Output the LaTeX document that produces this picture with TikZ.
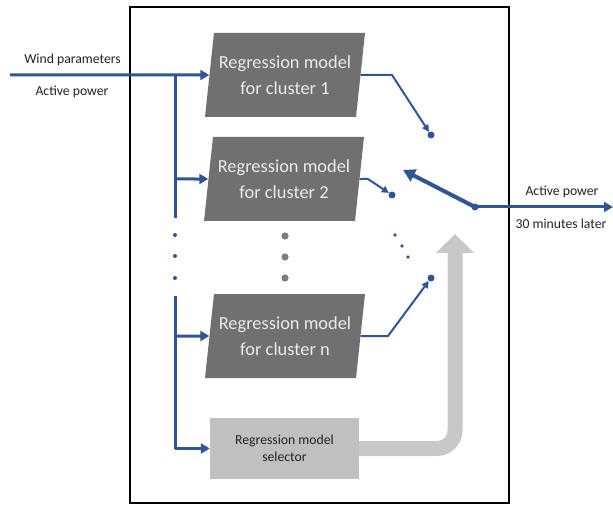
\documentclass[tikz,border=0pt]{standalone}
\usepackage{fontspec}
\setmainfont{Carlito}
\usetikzlibrary{arrows.meta,shapes.geometric}
\definecolor{lineblue}{RGB}{47,85,151}
\definecolor{modelgray}{RGB}{112,112,112}
\definecolor{selgray}{RGB}{192,192,192}
\definecolor{arrowgray}{RGB}{200,200,200}
\definecolor{labelgray}{RGB}{34,34,34}
\tikzset{
  every picture/.append style={scale=1},
  model/.style={trapezium, trapezium left angle=77, trapezium right angle=103,
    trapezium stretches body, fill=modelgray, text=white!92!black,
    minimum width=160pt, minimum height=84pt, inner sep=0pt, align=center,
    font=\fontsize{18.4}{26}\selectfont},
  selector/.style={rectangle, fill=selgray, text=labelgray, minimum width=149pt,
    minimum height=61pt, inner sep=0pt, align=center, font=\fontsize{13.7}{17}\selectfont},
  label/.style={text=labelgray, inner sep=0pt, font=\fontsize{13.7}{16}\selectfont},
  contact/.style={circle, fill=lineblue, minimum size=7pt, inner sep=0pt},
  feed/.style={lineblue, line width=3pt, -{Triangle[length=9pt,width=10pt]}},
  tap/.style={lineblue, line width=2pt, -{Triangle[length=7pt,width=7pt]}},
}

\begin{document}
\begin{tikzpicture}[x=1pt,y=-1pt]
  \useasboundingbox (0,0) rectangle (613,505);
  \draw[line width=2.5pt] (130,7) rectangle (509,503);

  % models
  \node[model] (m1) at (285,75) {Regression model\\for cluster 1};
  \node[model] (m2) at (284,179) {Regression model\\for cluster 2};
  \node[model] (mn) at (285,336) {Regression model\\for cluster n};
  \node[selector] (sel) at (284.5,448.5) {Regression model\\selector};

  % labels
  \node[label] (inA) at (72.5,60) {Wind parameters};
  \node[label] (inB) at (72,92) {Active power};
  \node[label] (outA) at (562,192) {Active power};
  \node[label] (outB) at (561,224) {30 minutes later};

  % inputs
  \coordinate (src) at (10,75);
  \coordinate (j1) at (175,75);
  \coordinate (j2) at (175,179);
  \coordinate (j3) at (175,218);
  \coordinate (j4) at (175,296);
  \coordinate (j5) at (175,336);
  \coordinate (j6) at (175,448.5);
  \draw[feed] (src) -- (m1.west);
  \draw[lineblue, line width=3pt] (j1) -- (j3);
  \draw[lineblue, line width=3pt] (j4) -- (j6);
  \draw[feed] (j2) -- (m2.west);
  \draw[feed] (j5) -- (mn.west);
  \draw[feed] (j6) -- (sel.west);
  \foreach \y in {235,256,278}
    \fill[lineblue] (175,\y) circle (2pt);
  \foreach \y in {236,257,278}
    \fill[modelgray!90] (285,\y) circle (3.6pt);

  % contacts
  \node[contact] (d1) at (431,135) {};
  \node[contact] (d2) at (392,195) {};
  \node[contact] (dn) at (431,278) {};
  \node[contact] (pivot) at (475,207) {};
  \foreach \x/\y in {395/235,402/246,408/257}
    \fill[lineblue] (\x,\y) circle (1.8pt);
  \coordinate (k1) at (392,75);
  \coordinate (k2) at (368,179);
  \coordinate (kn) at (388,336);
  \draw[tap] (m1.east) -- (k1) -- (d1);
  \draw[tap] (m2.east) -- (k2) -- (d2);
  \draw[tap] (mn.east) -- (kn) -- (dn);

  % switch and output
  \coordinate (arm) at (403,170);
  \coordinate (out) at (613,207);
  \draw[lineblue, line width=4pt, -{Triangle[length=12pt,width=13pt]}] (pivot.center) -- (arm);
  \draw[feed] (pivot.center) -- (out);

  % selection signal
  \coordinate (bend) at (455,448.5);
  \coordinate (tip) at (455,234);
  \draw[arrowgray, line width=15pt, rounded corners=18pt,
    -{Triangle[length=19pt,width=37pt]}] (sel.east) -- (bend) -- (tip);
\end{tikzpicture}
\end{document}
